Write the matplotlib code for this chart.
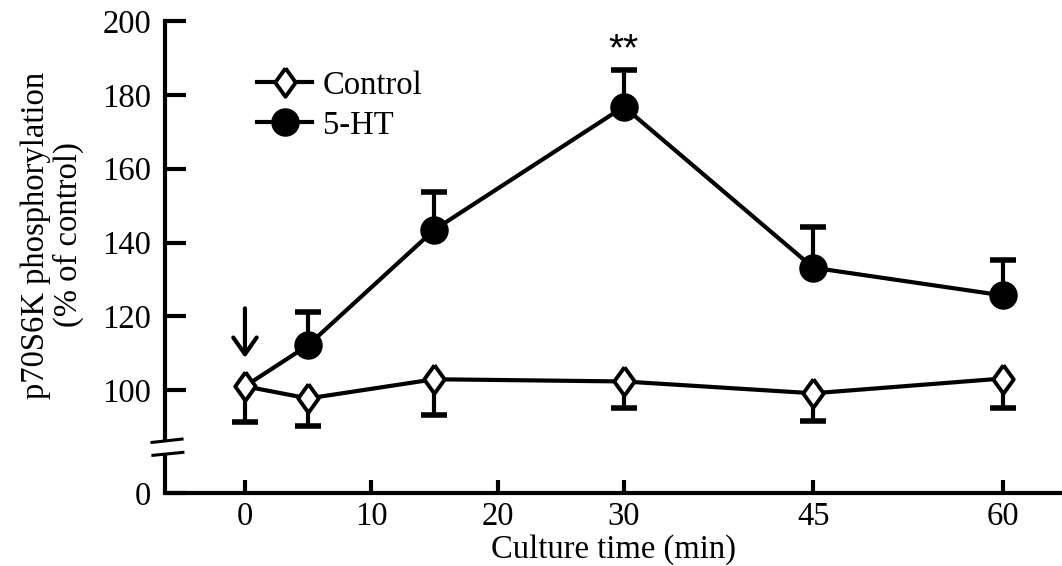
import numpy as np
import matplotlib
matplotlib.use("Agg")
import matplotlib.pyplot as plt
from matplotlib.lines import Line2D
from matplotlib.transforms import blended_transform_factory

plt.rcParams['font.family'] = ['Liberation Serif', 'DejaVu Serif']

# 数据
times = [0, 5, 15, 30, 45, 60]
control_mean = [101.1, 97.8, 103.0, 102.4, 99.2, 103.2]
control_err = [9.7, 7.5, 9.8, 7.3, 7.6, 8.1]
ht_mean = [101.1, 112.2, 143.5, 176.8, 133.2, 125.7]  # 0 min 与对照相同
ht_err = [0, 8.9, 10.3, 10.0, 11.1, 9.7]

x_ticks = [0, 10, 20, 30, 45, 60]
y_ticks = [100, 120, 140, 160, 180, 200]
y_zero = 72.2      # 断轴后 "0" 的位置
break_top = 86.5
break_bot = 83.0

lw = 3.0
fs = 23.5
diamond = [(0, 1), (0.72, 0), (0, -1), (-0.72, 0), (0, 1)]

fig = plt.figure(figsize=(10.62, 5.66), dpi=100)
ax = fig.add_axes([165 / 1062, 73 / 566, 897 / 1062, 472 / 566])

t = np.array(times)
cm = np.array(control_mean)
ce = np.array(control_err)
hm = np.array(ht_mean)
he = np.array(ht_err)

# 连线
ax.plot(t, cm, color='k', lw=lw, zorder=2)
ax.plot(t, hm, color='k', lw=lw, zorder=2)

# 误差线：对照只画下方，5-HT 只画上方
eb1 = ax.errorbar(t, cm, yerr=[ce, np.zeros_like(ce)], fmt='none', ecolor='k',
                  elinewidth=lw, capsize=9.5, capthick=4, zorder=1)
eb2 = ax.errorbar(t[1:], hm[1:], yerr=[np.zeros_like(he[1:]), he[1:]], fmt='none',
                  ecolor='k', elinewidth=lw, capsize=9.5, capthick=4, zorder=1)
for cl in eb1[1]:
    if np.allclose(cl.get_ydata(), cm):
        cl.set_visible(False)
for cl in eb2[1]:
    if np.allclose(cl.get_ydata(), hm[1:]):
        cl.set_visible(False)

# 标记
ax.plot(t[1:], hm[1:], linestyle='none', marker='o', ms=19.5, color='k', zorder=3)
ax.plot(t, cm, linestyle='none', marker=diamond, ms=20.5, mfc='white', mec='k',
        mew=2.8, zorder=4)

# 坐标轴
ax.set_xlim(-6.33, 64.69)
ax.set_ylim(y_zero, 200)
ax.set_xticks(x_ticks)
ax.set_xticklabels([str(v) for v in x_ticks])
ax.set_yticks([y_zero] + y_ticks)
ax.set_yticklabels(['0'] + [str(v) for v in y_ticks])
ax.tick_params(axis='y', direction='in', length=15, width=3, pad=10, labelsize=fs)
ax.tick_params(axis='x', direction='in', length=9.5, width=3, pad=6, labelsize=fs)

for s in ['top', 'right']:
    ax.spines[s].set_visible(False)
ax.spines['bottom'].set_linewidth(3)
ax.spines['left'].set_linewidth(3)
ax.spines['left'].set_bounds(break_top, 200)

# 断轴
tr = blended_transform_factory(ax.transAxes, ax.transData)
ax.plot([0, 0], [y_zero, break_bot], color='k', lw=3, transform=tr,
        clip_on=False, solid_capstyle='butt')
ax.plot([-0.0145, 0.019], [break_top - 0.6, break_top + 0.3], color='k', lw=2.2,
        transform=tr, clip_on=False)
ax.plot([-0.0135, 0.020], [break_bot - 0.6, break_bot + 0.2], color='k', lw=2.2,
        transform=tr, clip_on=False)

# 箭头与显著性
ax.annotate('', xy=(0, 108.8), xytext=(0, 122.2),
            arrowprops=dict(arrowstyle='->,head_length=0.6,head_width=0.42',
                            lw=lw, color='k', mutation_scale=20,
                            shrinkA=0, shrinkB=0))
ax.text(30, 192.0, '**', ha='center', va='center', fontsize=28,
        family=['Liberation Sans', 'DejaVu Sans'])

# 图例
handles = [
    Line2D([], [], color='k', lw=lw, marker=diamond, ms=20.5, mfc='white', mec='k', mew=2.8),
    Line2D([], [], color='k', lw=lw, marker='o', ms=19.5),
]
ax.legend(handles, ['Control', '5-HT'], loc='upper left',
          bbox_to_anchor=(257 / 1062, 1 - 70 / 566), bbox_transform=fig.transFigure,
          frameon=False, fontsize=fs, handlelength=1.7, handletextpad=0.32,
          labelspacing=0.3, borderpad=0, borderaxespad=0)

ax.set_xlabel('Culture time (min)', fontsize=fs, labelpad=2)
fig.text(52 / 1062, 1 - 235 / 566, 'p70S6K phosphorylation\n(% of control)',
         rotation=90, ha='center', va='center', multialignment='center',
         fontsize=fs, linespacing=1.05)

fig.savefig('out.png', dpi=100)
